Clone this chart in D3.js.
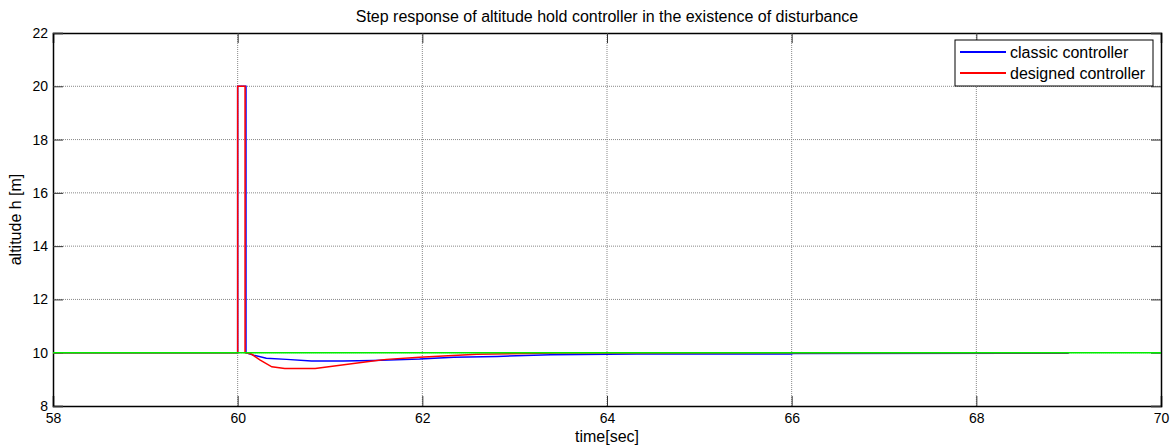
<!DOCTYPE html>
<html>
<head>
<meta charset="utf-8">
<script src="https://cdn.jsdelivr.net/npm/d3@7"></script>
<style>
  body { margin: 0; background: #fff; }
  text { font-family: "Liberation Sans", Arial, sans-serif; fill: #000; }
</style>
</head>
<body>
<div id="chart"></div>
<script>
// data
var xTicks = [58, 60, 62, 64, 66, 68, 70];
var yTicks = [8, 10, 12, 14, 16, 18, 20, 22];

var refT = [58, 70];
var refH = [10, 10];

var classicT = [58, 60, 60, 60.09, 60.09, 60.17, 60.31, 60.53, 60.8, 61.14, 61.47, 61.97, 62.34, 62.81, 63.39, 64.32, 66.0, 66.0, 69.0];
var classicH = [10, 10, 20, 20, 10, 9.91, 9.79, 9.75, 9.69, 9.69, 9.71, 9.76, 9.83, 9.86, 9.92, 9.95, 9.95, 9.975, 9.98];

var designedT = [58, 60, 60, 60.08, 60.08, 60.15, 60.24, 60.37, 60.51, 60.84, 61.4, 61.61, 61.97, 62.59, 63.45, 65.84, 69.0];
var designedH = [10, 10, 20, 20, 10, 9.95, 9.73, 9.47, 9.41, 9.41, 9.66, 9.75, 9.83, 9.94, 9.985, 9.995, 10];

var svgWidth = 1172;
var svgHeight = 448;
var margin = { top: 33, right: 11, bottom: 42, left: 53 };
var width = svgWidth - margin.left - margin.right;
var height = svgHeight - margin.top - margin.bottom;

var svg = d3.select("#chart").append("svg")
    .attr("width", svgWidth)
    .attr("height", svgHeight);

var g = svg.append("g")
    .attr("transform", `translate(${margin.left}, ${margin.top})`);

var x = d3.scaleLinear().domain([58, 70]).range([0, width]);
var y = d3.scaleLinear().domain([8, 22]).range([height, 0]);

// grid
g.selectAll(".gx").data(xTicks.slice(1, -1)).enter().append("line")
    .attr("x1", d => x(d)).attr("x2", d => x(d))
    .attr("y1", 0).attr("y2", height)
    .attr("stroke", "#888").attr("stroke-width", 1)
    .attr("stroke-dasharray", "1,1");
g.selectAll(".gy").data(yTicks.slice(1, -1)).enter().append("line")
    .attr("x1", 0).attr("x2", width)
    .attr("y1", d => y(d)).attr("y2", d => y(d))
    .attr("stroke", "#888").attr("stroke-width", 1)
    .attr("stroke-dasharray", "1,1");

// axes with inward ticks
var tick = 10;
g.append("g").attr("transform", `translate(0, ${height})`)
    .call(d3.axisBottom(x).tickValues(xTicks).tickSize(-tick).tickPadding(7).tickFormat(d3.format("d")));
g.append("g")
    .call(d3.axisTop(x).tickValues(xTicks).tickSize(-tick).tickFormat(""));
g.append("g")
    .call(d3.axisLeft(y).tickValues(yTicks).tickSize(-tick).tickPadding(5).tickFormat(d3.format("d")));
g.append("g").attr("transform", `translate(${width}, 0)`)
    .call(d3.axisRight(y).tickValues(yTicks).tickSize(-tick).tickFormat(""));

g.selectAll(".domain").attr("stroke", "#000").attr("stroke-width", 1.5);
g.selectAll(".tick line").attr("stroke", "#333");
g.selectAll(".tick text").attr("font-size", 14).attr("font-family", "Liberation Sans, Arial, sans-serif");

// lines (blue under red, green on top)
var line = d3.line().x(d => x(d[0])).y(d => y(d[1]));
function pairs(t, h) { return t.map((v, i) => [v, h[i]]); }

g.append("path").datum(pairs(classicT, classicH))
    .attr("d", line).attr("fill", "none").attr("stroke", "#0000ff").attr("stroke-width", 1.5);
g.append("path").datum(pairs(designedT, designedH))
    .attr("d", line).attr("fill", "none").attr("stroke", "#ff0000").attr("stroke-width", 1.5);
g.append("path").datum(pairs(refT, refH))
    .attr("d", line).attr("fill", "none").attr("stroke", "#00ee00").attr("stroke-width", 1.5);

// legend
var lg = svg.append("g").attr("transform", "translate(955, 40)");
lg.append("rect").attr("width", 198).attr("height", 46)
    .attr("fill", "#fff").attr("stroke", "#000").attr("stroke-width", 1);
var legend = [["classic controller", "#0000ff"], ["designed controller", "#ff0000"]];
legend.forEach(function(item, i) {
    lg.append("line").attr("x1", 5).attr("x2", 51)
        .attr("y1", 12 + i * 21).attr("y2", 12 + i * 21)
        .attr("stroke", item[1]).attr("stroke-width", 2);
    lg.append("text").attr("x", 55).attr("y", 18 + i * 21)
        .attr("font-size", 16).text(item[0]);
});

// titles
svg.append("text").attr("x", margin.left + width / 2).attr("y", 22)
    .attr("text-anchor", "middle").attr("font-size", 16)
    .text("Step response of altitude hold controller in the existence of disturbance");
svg.append("text").attr("x", margin.left + width / 2).attr("y", 442)
    .attr("text-anchor", "middle").attr("font-size", 16)
    .text("time[sec]");
svg.append("text")
    .attr("transform", `translate(21, ${margin.top + height / 2}) rotate(-90)`)
    .attr("text-anchor", "middle").attr("font-size", 16)
    .text("altitude h [m]");
</script>
</body>
</html>
